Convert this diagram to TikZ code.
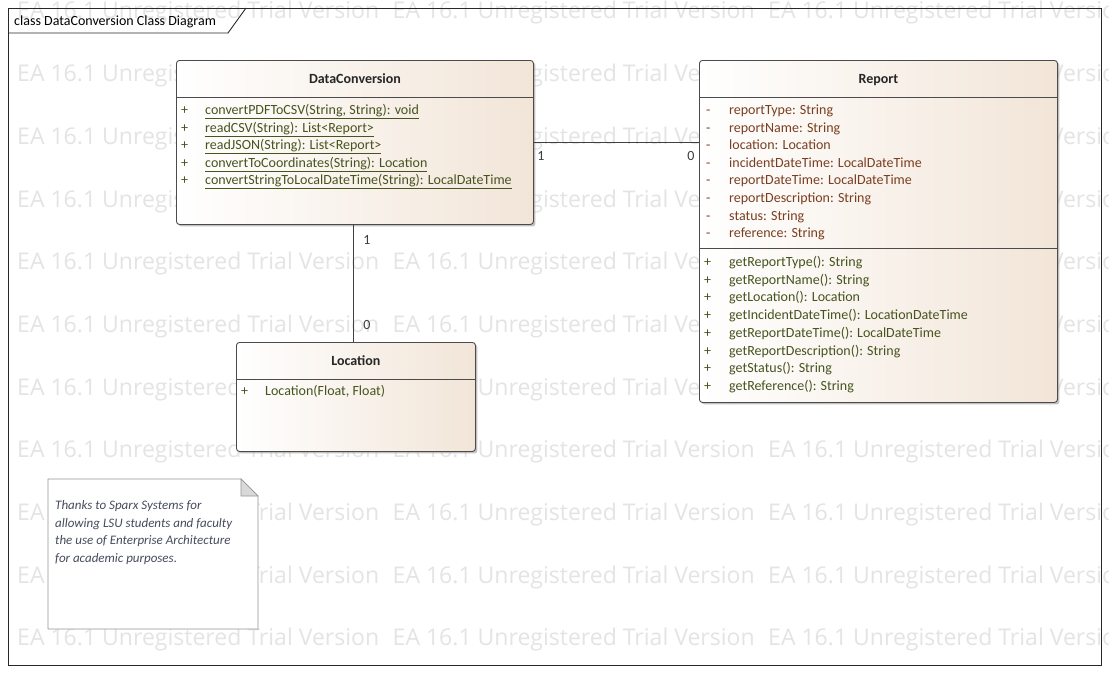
\documentclass[tikz,border=0pt]{standalone}
\usepackage{graphicx}
\usepackage{fontspec}
\setmainfont{Carlito}
\newfontfamily\wmfont{Open Sans}
\usetikzlibrary{shadows}
\definecolor{framec}{RGB}{40,40,40}
\definecolor{boxline}{RGB}{75,75,75}
\definecolor{beige}{RGB}{242,229,216}
\definecolor{methc}{RGB}{70,84,30}
\definecolor{attrc}{RGB}{122,62,32}
\definecolor{wmc}{RGB}{228,228,228}
\definecolor{notec}{RGB}{70,76,92}
\definecolor{notel}{RGB}{150,150,150}
\definecolor{labc}{RGB}{60,60,60}
\newsavebox\wmbox
\sbox\wmbox{\resizebox{362pt}{!}{\wmfont\color{wmc}EA 16.1 Unregistered Trial Version}}
\begin{document}
\begin{tikzpicture}[x=1pt,y=-1pt,
  txt/.style={font=\fontsize{14}{16}\selectfont, inner sep=0pt},
  wm/.style={anchor=west, inner sep=0pt},
  cls/.style={anchor=north west, draw=boxline, line width=0.9pt, rounded corners=3pt,
    left color=white, right color=beige, inner sep=0pt,
    drop shadow={shadow xshift=2pt, shadow yshift=-2pt, fill=black!40, opacity=.6}},
  divider/.style={draw=boxline, line width=0.9pt},
  ctitle/.style={txt, anchor=base, font=\fontsize{14}{16}\selectfont\bfseries, text=black!85},
  vis/.style={txt, anchor=base west},
  row/.style={txt, anchor=base west},
  mult/.style={txt, text=labc},
  conn/.style={draw=black!75, line width=0.9pt},
  notetext/.style={txt, anchor=base west, text=notec, font=\fontsize{13}{15}\selectfont\itshape}
]
\useasboundingbox (0,0) rectangle (1109,673);
\fill[white] (0,0) rectangle (1109,673);
% watermark
\begin{scope}
\clip (0,0) rectangle (1109,673);
\foreach \r in {0,...,10}
  \foreach \c in {0,1,2}
    \node[wm] (wm-\r-\c) at ({17+375.5*\c},{13+62.7*\r}) {\usebox\wmbox};
\end{scope}
% frame and tab
\draw[framec, line width=0.9pt] (8,8) rectangle (1101,665);
\draw[framec, line width=0.9pt] (8,33) -- (228,33) -- (246,8);
\node[txt, anchor=base west, text=black] (tab) at (14,25.5) {class DataConversion Class Diagram};

% DataConversion
\node[cls, minimum width=357pt, minimum height=164pt] (dc) at (176,60) {};
\draw[divider] (dc.north west |- 0,97) -- (dc.north east |- 0,97);
\node[ctitle] (dct) at (dc.north |- 0,83.5) {DataConversion};
\foreach \t [count=\i] in {{convertPDFToCSV(String, String): void},{readCSV(String): List<Report>},{readJSON(String): List<Report>},{convertToCoordinates(String): Location},{convertStringToLocalDateTime(String): LocalDateTime}}{
  \node[vis, text=methc] (dcv\i) at (181,{114.5+17.5*(\i-1)}) {+};
  \node[row, text=methc] (dcm\i) at (205,{114.5+17.5*(\i-1)}) {\underline{\t}};
}

% Report
\node[cls, minimum width=358pt, minimum height=342pt] (rep) at (699,60) {};
\draw[divider] (rep.north west |- 0,97) -- (rep.north east |- 0,97);
\draw[divider] (rep.north west |- 0,248) -- (rep.north east |- 0,248);
\node[ctitle] (rept) at (rep.north |- 0,83.5) {Report};
\foreach \t [count=\i] in {{reportType: String},{reportName: String},{location: Location},{incidentDateTime: LocalDateTime},{reportDateTime: LocalDateTime},{reportDescription: String},{status: String},{reference: String}}{
  \node[vis, text=attrc] (repv\i) at (706,{114.5+17.6*(\i-1)}) {-};
  \node[row, text=attrc] (repa\i) at (729,{114.5+17.6*(\i-1)}) {\t};
}
\foreach \t [count=\i] in {{getReportType(): String},{getReportName(): String},{getLocation(): Location},{getIncidentDateTime(): LocationDateTime},{getReportDateTime(): LocalDateTime},{getReportDescription(): String},{getStatus(): String},{getReference(): String}}{
  \node[vis, text=methc] (repw\i) at (704,{266.5+17.7*(\i-1)}) {+};
  \node[row, text=methc] (repm\i) at (729,{266.5+17.7*(\i-1)}) {\t};
}

% Location
\node[cls, minimum width=239pt, minimum height=109pt] (loc) at (236,342) {};
\draw[divider] (loc.north west |- 0,379) -- (loc.north east |- 0,379);
\node[ctitle] (loct) at (loc.north |- 0,365.5) {Location};
\node[vis, text=methc] (locv1) at (241,395.5) {+};
\node[row, text=methc] (locm1) at (265,395.5) {Location(Float, Float)};

% connectors
\draw[conn] (dc.east) -- (dc.east -| rep.west);
\draw[conn] ([xshift=-1.5pt]dc.south) -- ([xshift=-1.5pt]dc.south |- loc.north);
\node[mult] (m1) at (541,156) {1};
\node[mult] (m2) at (691,156) {0};
\node[mult] (m3) at (367,240) {1};
\node[mult] (m4) at (367,325) {0};

% note
\draw[notel, line width=0.8pt, fill=white] (48,479) -- (241,479) -- (258,496) -- (258,629) -- (48,629) -- cycle;
\draw[notel, line width=0.6pt, fill=black!15] (241,479) -- (258,496) -- (241,496) -- cycle;
\foreach \t [count=\i] in {{Thanks to Sparx Systems for},{allowing LSU students and faculty},{the use of Enterprise Architecture},{for academic purposes.}}{
  \node[notetext] (note\i) at (55,{509.5+17.7*(\i-1)}) {\t};
}
\end{tikzpicture}
\end{document}
